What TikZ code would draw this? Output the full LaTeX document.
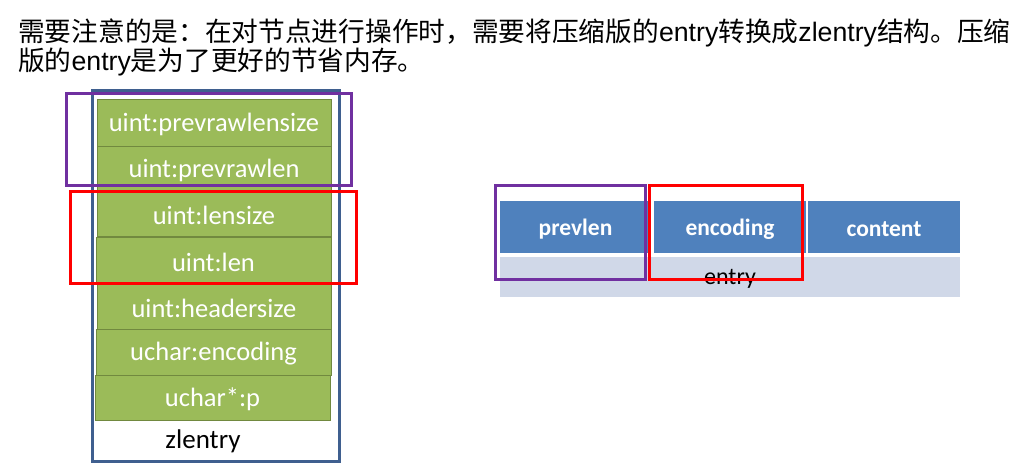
\documentclass[tikz,border=0pt]{standalone}
\usepackage{fontspec}
\setmainfont{Liberation Sans}
\newfontfamily\cjk{Noto Sans CJK SC}
\newfontfamily\carlitofont{Carlito}
\definecolor{gfill}{HTML}{9BBB59}
\definecolor{gline}{HTML}{71893F}
\definecolor{bout}{HTML}{3F5F8F}
\definecolor{bcell}{HTML}{4F81BD}
\definecolor{lcell}{HTML}{D0D8E8}
\definecolor{purp}{HTML}{7030A0}
\tikzset{
  fld/.style={draw=gline, line width=0.8pt, fill=gfill, text=white, font=\carlitofont\fontsize{26.5}{30}\selectfont},
  fldtxt/.style={yshift=-2pt},
  hdr/.style={fill=bcell, text=white, font=\carlitofont\bfseries\fontsize{23.5}{27}\selectfont},
  markp/.style={draw=purp, line width=3pt},
  markr/.style={draw=red, line width=3pt},
}
\begin{document}
\begin{tikzpicture}[x=1pt,y=-1pt]
\useasboundingbox (0,0) rectangle (1027,472);
% heading text
\node[anchor=base west, inner sep=0pt, font=\fontsize{26.7}{30}\selectfont] (t1) at (18,41)
 {{\cjk 需要注意的是：在对节点进行操作时，需要将压缩版的}entry{\cjk 转换成}zlentry{\cjk 结构。压缩}};
\node[anchor=base west, inner sep=0pt, font=\fontsize{26.7}{30}\selectfont] (t2) at (18,70)
 {{\cjk 版的}entry{\cjk 是为了更好的节省内存。}};
% left: zlentry fields
\path[fld] (97,99) rectangle (331,146) node[midway, fldtxt] (f1) {uint:prevrawlensize};
\path[fld] (97,146) rectangle (331,190) node[midway, fldtxt] (f2) {uint:prevrawlen};
\path[fld] (97,190) rectangle (331,236) node[midway, fldtxt] (f3) {uint:lensize};
\path[fld] (96,237) rectangle (331,283) node[midway, fldtxt] (f4) {uint:len};
\path[fld] (97,283) rectangle (331,329) node[midway, fldtxt] (f5) {uint:headersize};
\path[fld] (96,329) rectangle (331,375) node[midway, fldtxt] (f6) {uchar:encoding};
\path[fld] (95,375) rectangle (330,420) node[midway, fldtxt] (f7) {uchar*:p};
\node[font=\carlitofont\fontsize{27}{30}\selectfont] (zl) at (203,441) {zlentry};
\draw[bout, line width=3pt] (92,90) rectangle (339,461);
\draw[markp] (66,93) rectangle (351,185);
\draw[markr] (70,191) rectangle (356,283);
% right: entry
\path[fill=lcell] (500,257) rectangle (960,297);
\node[font=\carlitofont\fontsize{24}{27}\selectfont] (en) at (730,279) {entry};
\path[hdr] (500,201) rectangle (651,253) node[midway, yshift=-2pt] (h1) {prevlen};
\path[hdr] (654,201) rectangle (806,253) node[midway, yshift=-2pt] (h2) {encoding};
\path[hdr] (808,201) rectangle (960,253) node[midway, yshift=-2pt] (h3) {content};
\draw[markp] (495,185) rectangle (645,279);
\draw[markr] (649,185) rectangle (802,279);
\end{tikzpicture}
\end{document}
